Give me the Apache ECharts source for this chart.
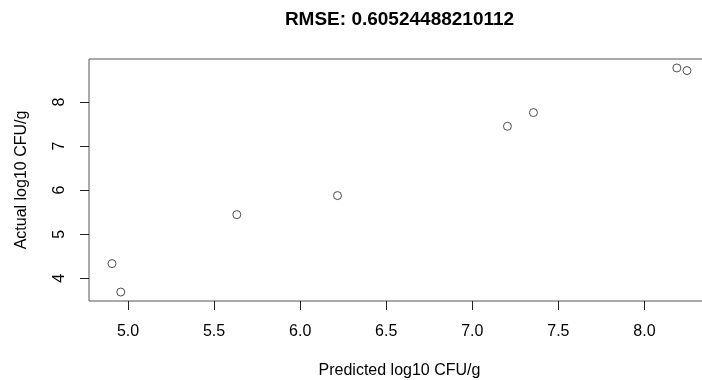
<!DOCTYPE html>
<html>
<head>
<meta charset="utf-8">
<script src="https://cdn.jsdelivr.net/npm/echarts@6/dist/echarts.min.js"></script>
<style>
html,body{margin:0;padding:0;background:#fff;}
#chart{width:702px;height:380px;}
</style>
</head>
<body>
<div id="chart"></div>
<script>
const predicted = [4.907, 4.958, 5.632, 6.217, 7.204, 7.355, 8.188, 8.247];
const actual = [4.334, 3.689, 5.445, 5.877, 7.449, 7.760, 8.772, 8.713];
const xTicks = [5.0, 5.5, 6.0, 6.5, 7.0, 7.5, 8.0];
const yTicks = [4, 5, 6, 7, 8];
const titleText = 'RMSE: 0.60524488210112';
const xName = 'Predicted log10 CFU/g';
const yName = 'Actual log10 CFU/g';

function rRange(arr) {
  const mn = Math.min(...arr), mx = Math.max(...arr);
  const pad = 0.04 * (mx - mn);
  return [mn - pad, mx + pad];
}
const xr = rRange(predicted);
const yr = rRange(actual);
const points = predicted.map((p, i) => [p, actual[i]]);

const FONT = 'Liberation Sans, Arial, sans-serif';
const chart = echarts.init(document.getElementById('chart'), null, {renderer: 'canvas'});
chart.setOption({
  animation: false,
  backgroundColor: '#ffffff',
  title: {
    text: titleText,
    left: 399.5,
    textAlign: 'center',
    top: 10,
    padding: 0,
    textStyle: {fontFamily: FONT, fontSize: 19, fontWeight: 'bold', color: '#000'}
  },
  grid: {
    left: 89, top: 59, width: 621, height: 242,
    containLabel: false,
    outerBoundsMode: 'none',
    show: true, borderColor: '#555', borderWidth: 1, backgroundColor: 'transparent'
  },
  xAxis: {
    type: 'value',
    min: xr[0], max: xr[1],
    name: xName,
    nameLocation: 'middle',
    nameGap: 62,
    nameTextStyle: {fontFamily: FONT, fontSize: 16, color: '#000'},
    axisLine: {show: false},
    splitLine: {show: false},
    axisTick: {show: true, inside: false, length: 9, customValues: xTicks, lineStyle: {color: '#222', width: 1}},
    axisLabel: {
      customValues: xTicks, margin: 23,
      fontFamily: FONT, fontSize: 16, color: '#000',
      formatter: v => v.toFixed(1)
    }
  },
  yAxis: {
    type: 'value',
    min: yr[0], max: yr[1],
    name: yName,
    nameLocation: 'middle',
    nameGap: 59,
    nameRotate: 90,
    nameTextStyle: {fontFamily: FONT, fontSize: 16, color: '#000'},
    axisLine: {show: false},
    splitLine: {show: false},
    axisTick: {show: true, inside: false, length: 9, customValues: yTicks, lineStyle: {color: '#222', width: 1}},
    axisLabel: {
      customValues: yTicks, margin: 21, rotate: 90,
      fontFamily: FONT, fontSize: 16, color: '#000',
      formatter: v => String(v)
    }
  },
  series: [{
    type: 'scatter',
    data: points,
    symbol: 'circle',
    symbolSize: 8,
    itemStyle: {color: '#fff', borderColor: '#222', borderWidth: 1},
    clip: false
  }]
});
</script>
</body>
</html>
